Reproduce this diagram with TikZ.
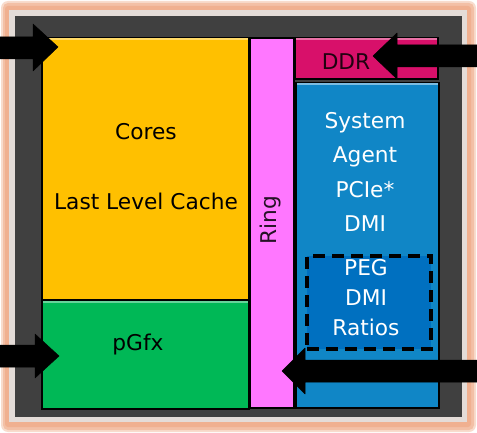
\documentclass[tikz,border=0pt]{standalone}
\usepackage{fontspec}
\setmainfont{DejaVu Sans}
\definecolor{glow}{HTML}{F0B090}
\definecolor{frame}{HTML}{E4DCD8}
\definecolor{darkbg}{HTML}{404040}
\definecolor{coreY}{HTML}{FFC000}
\definecolor{gfxG}{HTML}{00B856}
\definecolor{ringP}{HTML}{FF77FF}
\definecolor{ddrR}{HTML}{D8106A}
\definecolor{saB}{HTML}{1086C6}
\definecolor{pegB}{HTML}{0070C0}
\tikzset{
  blk/.style={draw=black, line width=1.6pt},
  hl/.style={line width=1.6pt},
  lbl/.style={font=\fontsize{21.7}{26}\selectfont, inner sep=0pt},
  arr/.style={fill=black, draw=black, line width=0.5pt, line join=round},
}
\begin{document}
\begin{tikzpicture}[x=1pt,y={(0pt,-1pt)}]
\useasboundingbox (0,0) rectangle (477,433);
% background and frame
\fill[white] (0,0) rectangle (477,433);
\fill[glow!45, rounded corners=7pt] (1,1) rectangle (476,432);
\fill[glow!80, rounded corners=5pt] (3,3) rectangle (474,430);
\fill[glow, rounded corners=3pt] (5,6) rectangle (471,427);
\fill[frame] (9,10) rectangle (467,422);
\fill[darkbg] (15,16) rectangle (462,417);
% boxes
\node[blk, fill=coreY, minimum width=207pt, minimum height=262pt, anchor=north west, inner sep=0pt] (cores) at (41,37) {};
\node[blk, fill=gfxG, minimum width=207pt, minimum height=108pt, anchor=north west, inner sep=0pt] (gfx) at (41,300) {};
\node[blk, fill=ringP, minimum width=44pt, minimum height=370pt, anchor=north west, inner sep=0pt] (ring) at (249,37) {};
\node[blk, fill=ddrR, minimum width=143pt, minimum height=41pt, anchor=north west, inner sep=0pt] (ddr) at (294,37) {};
\node[blk, fill=saB, minimum width=143pt, minimum height=325pt, anchor=north west, inner sep=0pt] (sa) at (295,82) {};
% bevel highlights
\draw[hl, coreY!60!white] ([shift={(2pt,-2.2pt)}]cores.north west) -- ([shift={(-2pt,-2.2pt)}]cores.north east);
\draw[hl, gfxG!60!white] ([shift={(2pt,-2.2pt)}]gfx.north west) -- ([shift={(-2pt,-2.2pt)}]gfx.north east);
\draw[hl, ddrR!60!white] ([shift={(2pt,-2.2pt)}]ddr.north west) -- ([shift={(-2pt,-2.2pt)}]ddr.north east);
\draw[hl, saB!55!white] ([shift={(2pt,-2.2pt)}]sa.north west) -- ([shift={(-2pt,-2.2pt)}]sa.north east);
% dashed inner box
\node[draw=black, line width=3.6pt, dash pattern=on 12pt off 7pt, fill=pegB, minimum width=124pt, minimum height=93pt, anchor=north west, inner sep=0pt] (peg) at (305,254) {};
% texts
\node[lbl] (tcores) at (146,132) {Cores};
\node[lbl] (tllc) at (146,201) {Last Level Cache};
\node[lbl] (tgfx) at (138,345) {pGfx};
\node[lbl, rotate=90, text=black!85!ringP] (tring) at (271,220) {Ring};
\node[lbl, text=black!85!ddrR] (tddr) at (346,62) {DDR};
\node[lbl, white] (t1) at (365,123) {System};
\node[lbl, white] (t2) at (365,157) {Agent};
\node[lbl, white] (t3) at (365,190) {PCIe*};
\node[lbl, white] (t4) at (365,224) {DMI};
\node[lbl, white] (t5) at (366,268) {PEG};
\node[lbl, white] (t6) at (366,298) {DMI};
\node[lbl, white] (t7) at (366,327) {Ratios};
% arrows
\coordinate (a1) at (58,47);
\coordinate (a2) at (59,356);
\coordinate (a3) at (373,56);
\coordinate (a4) at (282,371);
\fill[arr] (0,37) -- (33,37) -- (33,24) -- (a1) -- (33,71) -- (33,59) -- (0,59) -- cycle;
\fill[arr] (0,345) -- (35,345) -- (35,334) -- (a2) -- (35,378) -- (35,367) -- (0,367) -- cycle;
\fill[arr] (477,45) -- (397,45) -- (397,33) -- (a3) -- (397,79) -- (397,67) -- (477,67) -- cycle;
\fill[arr] (477,360) -- (305,360) -- (305,348) -- (a4) -- (305,394) -- (305,382) -- (477,382) -- cycle;
\end{tikzpicture}
\end{document}
